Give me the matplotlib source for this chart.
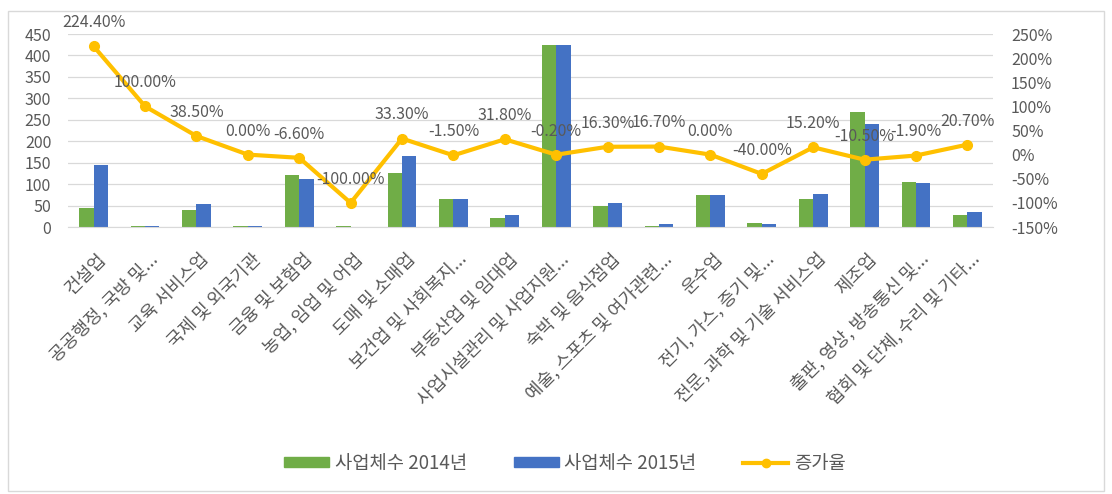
import matplotlib
matplotlib.use("Agg")
import matplotlib.pyplot as plt
import matplotlib.transforms as mtransforms
from matplotlib.patches import Rectangle
from matplotlib.lines import Line2D
import numpy as np

plt.rcParams['font.family'] = ['Noto Sans CJK KR', 'DejaVu Sans']

categories = ["건설업", "공공행정, 국방 및...", "교육 서비스업", "국제 및 외국기관", "금융 및 보험업",
              "농업, 임업 및 어업", "도매 및 소매업", "보건업 및 사회복지...", "부동산업 및 임대업",
              "사업시설관리 및 사업지원...", "숙박 및 음식점업", "예술, 스포츠 및 여가관련...",
              "운수업", "전기, 가스, 증기 및...", "전문, 과학 및 기술 서비스업", "제조업",
              "출판, 영상, 방송통신 및...", "협회 및 단체, 수리 및 기타..."]
count_2014 = [45, 2, 39, 2, 121, 2, 125, 66, 22, 424, 49, 3, 74, 10, 66, 267, 104, 29]
count_2015 = [145, 3, 54, 2, 113, 0, 166, 65, 29, 424, 57, 8, 74, 6, 76, 240, 102, 35]
growth = [224.4, 100.0, 38.5, 0.0, -6.6, -100.0, 33.3, -1.5, 31.8, -0.2, 16.3, 16.7,
          0.0, -40.0, 15.2, -10.5, -1.9, 20.7]
left_ticks = [0, 50, 100, 150, 200, 250, 300, 350, 400, 450]
right_ticks = [-150, -100, -50, 0, 50, 100, 150, 200, 250]

GREEN = "#70AD47"
BLUE = "#4472C4"
GOLD = "#FFC000"
TXT = "#595959"

W, H = 1112, 494
fig = plt.figure(figsize=(W / 100, H / 100), dpi=100)

# chart border
fig.patches.append(Rectangle((8 / W, 1 - 491 / H), (1104 - 8) / W, (491 - 11) / H,
                             transform=fig.transFigure, fill=False, edgecolor="#D9D9D9", lw=1))

x0, x1 = 68, 993
yt, yb = 34, 227
ax = fig.add_axes([x0 / W, 1 - yb / H, (x1 - x0) / W, (yb - yt) / H])
x = np.arange(len(categories))
bw = 0.28
ax.bar(x - bw / 2, count_2014, width=bw, color=GREEN, zorder=2)
ax.bar(x + bw / 2, count_2015, width=bw, color=BLUE, zorder=2)
ax.set_xlim(-0.5, len(categories) - 0.5)
ax.set_ylim(0, 450)
ax.set_yticks(left_ticks)
ax.grid(axis='y', color="#D9D9D9", lw=0.9, zorder=0)
ax.set_axisbelow(True)
for s in ax.spines.values():
    s.set_visible(False)
ax.spines['bottom'].set_visible(True)
ax.spines['bottom'].set_color("#D9D9D9")
ax.tick_params(axis='both', length=0, colors=TXT, labelsize=11.5)
ax.tick_params(axis='y', pad=12)
ax.set_xticks(x)
ax.set_xticklabels(categories, rotation=45, ha='right', va='center', rotation_mode='anchor',
                   fontsize=13, color=TXT)
ax.tick_params(axis='x', pad=21)
offset = mtransforms.ScaledTranslation(10 / 100, 0, fig.dpi_scale_trans)
for lab in ax.get_xticklabels():
    lab.set_transform(lab.get_transform() + offset)

ax2 = ax.twinx()
ax2.set_ylim(-150, 250)
ax2.set_yticks(right_ticks)
ax2.set_yticklabels([f"{t}%" for t in right_ticks])
for s in ax2.spines.values():
    s.set_visible(False)
ax2.tick_params(axis='y', length=0, colors=TXT, labelsize=11.5, pad=13)
ax2.plot(x, growth, color=GOLD, lw=3, marker='o', ms=7, zorder=5, solid_joinstyle='round')
for xi, g in zip(x, growth):
    ax2.annotate(f"{g:.2f}%", (xi, g), xytext=(0, 17), textcoords='offset points',
                 ha='center', va='center', fontsize=11.5, color=TXT, zorder=6)

handles = [Rectangle((0, 0), 1, 1, color=GREEN), Rectangle((0, 0), 1, 1, color=BLUE),
           Line2D([0], [0], color=GOLD, lw=3, marker='o', ms=6)]
fig.legend(handles, ["사업체수 2014년", "사업체수 2015년", "증가율"], loc='center left',
           bbox_to_anchor=(284 / W, 1 - 463 / H), ncol=3, frameon=False, fontsize=13.5,
           labelcolor=TXT, handlelength=2.4, handleheight=0.42, columnspacing=2.5,
           handletextpad=0.3, borderaxespad=0, borderpad=0)

fig.savefig("out.png", dpi=100, facecolor="white")
